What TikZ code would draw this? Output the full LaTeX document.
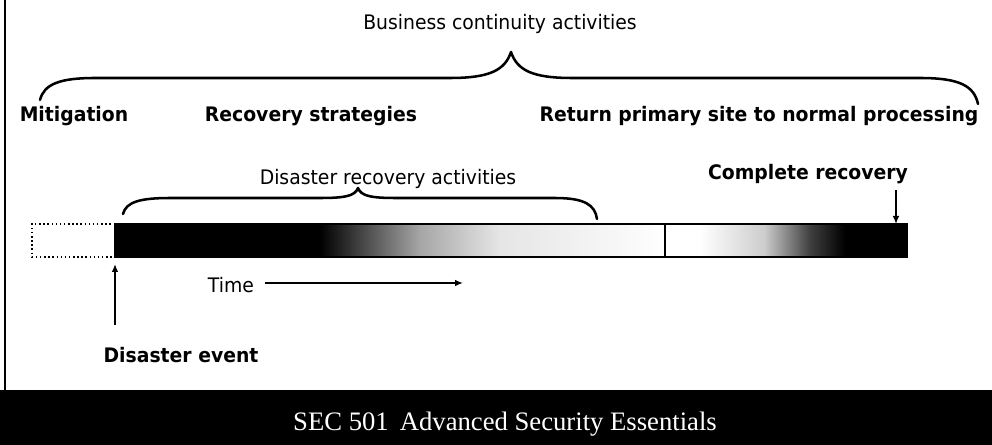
\documentclass[tikz,border=0pt]{standalone}
\usepackage{fontspec}
\setmainfont{DejaVu Sans}[FakeStretch=0.94]
\newfontfamily\footfont{Liberation Serif}
\usetikzlibrary{arrows.meta}

\begin{document}
\begin{tikzpicture}[x=0.75pt,y=-0.75pt,
  lbl/.style={font=\fontsize{15}{18}\selectfont\bfseries, inner sep=0, anchor=base},
  txt/.style={font=\fontsize{15}{18}\selectfont, inner sep=0, anchor=base},
  brace/.style={line width=1.9pt, line cap=round, line join=round},
  pointer/.style={line width=1.2pt, -{Latex[length=6pt,width=5pt]}},
  outline/.style={line width=1.1pt},
]
\useasboundingbox (0,0) rectangle (992,445);

% footer band
\fill[black] (0,390) rectangle (992,445);
\node[font=\footfont\fontsize{20}{24}\selectfont, text=white, inner sep=0, anchor=base]
  (footer) at (505,430) {SEC 501\, Advanced Security Essentials};

% left frame edge
\draw[line width=1.5pt] (5,0) -- (5,390);

% headings
\node[txt] (bc)   at (500,30)  {Business continuity activities};
\node[lbl] (mit)  at (74,122)  {Mitigation};
\node[lbl] (rec)  at (311,122) {Recovery strategies};
\node[lbl] (ret)  at (759,122) {Return primary site to normal processing};
\node[txt] (dr)   at (388,185) {Disaster recovery activities};
\node[lbl] (comp) at (808,180) {Complete recovery};
\node[txt] (time) at (231,292) {Time};
\node[lbl] (evt)  at (181,362) {Disaster event};

% business continuity brace
\draw[brace] (40,100) .. controls (44,84) and (60,78) .. (95,78) -- (450,78)
  .. controls (490,78) and (505,70) .. (511,52)
  .. controls (517,70) and (532,78) .. (572,78) -- (920,78)
  .. controls (960,78) and (974,86) .. (978,104);

% disaster recovery brace
\draw[brace] (123,214) .. controls (126,202) and (140,198) .. (170,198) -- (320,198)
  .. controls (345,198) and (355,196) .. (358,188)
  .. controls (361,196) and (371,198) .. (396,198) -- (555,198)
  .. controls (585,198) and (595,205) .. (597,219);

% timeline bar: first segment fades from black to white
\fill[black] (115,224) rectangle (320,257);
\shade[left color=black, right color=black!35] (319.5,224) rectangle (420,257);
\shade[left color=black!35, right color=black!10] (419.5,224) rectangle (500,257);
\shade[left color=black!10, right color=black!3] (499.5,224) rectangle (620,257);
\shade[left color=black!3, right color=white] (619.5,224) rectangle (665,257);
% second segment fades from white to black
\shade[left color=white, right color=black!20] (700,224) rectangle (765,257);
\shade[left color=black!20, right color=black!75] (764.5,224) rectangle (810,257);
\shade[left color=black!75, right color=black] (809.5,224) rectangle (845,257);
\fill[black] (844.5,224) rectangle (907,257);
\draw[outline] (115,224) rectangle (907,257);
\draw[outline] (665,224) -- (665,257);

% time before the event
\draw[dotted, line width=1.1pt] (115,224) -- (32,224) -- (32,257) -- (115,257);

% pointers
\coordinate (evtail) at (115,325);
\coordinate (evhead) at (115,264);
\draw[pointer] (evtail) -- (evhead);

\coordinate (comptail) at (896,190);
\coordinate (comphead) at (896,224);
\draw[pointer] (comptail) -- (comphead);

\coordinate (timetail) at (265,283);
\coordinate (timehead) at (463,283);
\draw[pointer] (timetail) -- (timehead);
\end{tikzpicture}
\end{document}
